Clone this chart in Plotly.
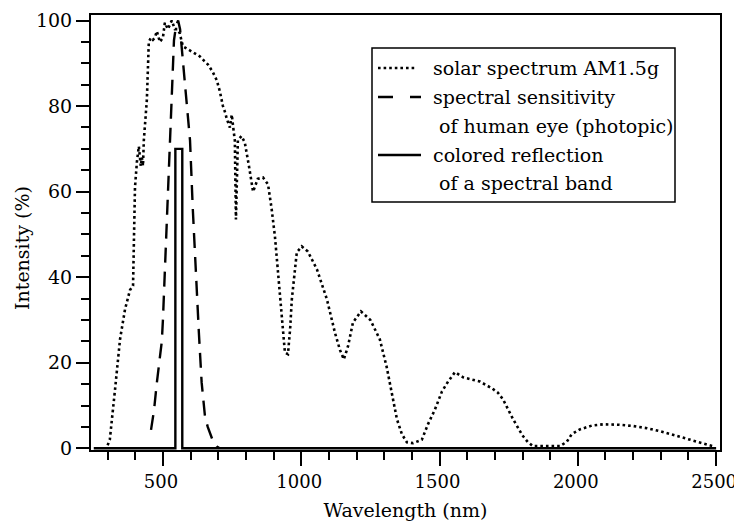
import plotly.graph_objects as go

# Solar spectrum AM1.5g
solar_wl = [300, 308, 327, 345, 363, 381, 392, 399, 406, 413, 420, 424, 428, 431, 442, 449, 457, 464, 471, 478,
            489, 500, 507, 518, 525, 532, 543, 552, 561, 572, 585, 598, 615, 634, 650, 663, 680, 695, 706, 717,
            725, 731, 742, 749, 756, 760, 764, 771, 784, 796, 811, 826, 843, 862, 880, 893, 905, 915, 923, 932,
            941, 952, 960, 966, 975, 984, 1002, 1024, 1057, 1093, 1122, 1140, 1154, 1169, 1187, 1216, 1250, 1284,
            1309, 1328, 1346, 1364, 1382, 1404, 1436, 1458, 1483, 1509, 1531, 1556, 1585, 1646, 1690, 1711, 1730,
            1766, 1800, 1820, 1838, 1880, 1935, 1960, 1978, 2007, 2050, 2091, 2150, 2200, 2250, 2297, 2350, 2394,
            2450, 2488]
solar_val = [0.7, 2, 13.8, 25.5, 32.5, 37, 38, 61, 67, 70.6, 66, 68, 66, 72, 81.5, 95, 96, 95.5, 96, 97.5,
             95, 96, 99.5, 98, 99, 100, 98, 98, 97, 94, 93.5, 93, 92.5, 91.6, 90.5, 89.7, 88, 86, 83.4, 80,
             78.5, 77, 75, 78, 74, 72, 53.5, 72, 73, 71.5, 66, 60, 63, 63.3, 61.7, 56, 49.5, 42, 34.8, 28,
             22.4, 22, 28, 34.8, 41, 45.8, 47.2, 46, 41.8, 34.8, 27, 23, 20.8, 23.8, 29.4, 32, 30, 25.5,
             19, 13, 6.8, 3.3, 1.4, 1.2, 2, 5.6, 9, 13.3, 15.6, 17.8, 16.6, 15.6, 14, 13, 11.4,
             6.8, 3, 1.4, 0.5, 0.5, 0.5, 1.5, 3.3, 4.4, 5.3, 5.6, 5.5, 5.2, 4.7, 4, 3, 2.1,
             1.2, 0.5]

# Photopic sensitivity of the human eye
eye_wl = [457, 468, 478, 488, 496, 500, 507, 514, 518, 525, 532, 540, 548, 555, 562, 572, 580, 587, 598, 608,
          619, 630, 640, 652, 662, 670, 682, 695, 705]
eye_val = [4.3, 9, 15.3, 20.5, 25, 30, 41.7, 53.4, 62, 73.7, 85.4, 95.4, 99, 100, 98, 91, 86, 81.6, 72, 56,
           40, 27, 15.4, 7.5, 5, 3.7, 1.5, 0.4, 0]

# Colored reflection of a spectral band
band_wl = [250, 545, 545, 570, 570, 2500]
band_val = [0, 0, 70, 70, 0, 0]

x_ticks = [500, 1000, 1500, 2000, 2500]
y_ticks = [0, 20, 40, 60, 80, 100]

# legend rows: (label, dash style or None)
legend_rows = [
    ("solar spectrum AM1.5g", "2.6px,3px"),
    ("spectral sensitivity", "15px,17px"),
    ("\u00a0of human eye (photopic)", None),
    ("colored reflection", "solid"),
    ("\u00a0of a spectral band", None),
]

FONT = "DejaVu Serif"
FS = 19
SOLAR_DASH = "2.6px,3px"
EYE_DASH = "15px,9px"

# page body has an 8px margin: the figure starts at (8, 8) in the window
OFF = 8
W, H = 742 - OFF, 529 - 2 * OFF
# plot area in window pixels
L, R, T, B = 91, 720, 15, 450

fig = go.Figure()
fig.add_trace(go.Scatter(x=solar_wl, y=solar_val, mode="lines", name="solar spectrum AM1.5g",
                         line=dict(color="black", width=2.6, dash=SOLAR_DASH)))
fig.add_trace(go.Scatter(x=eye_wl, y=eye_val, mode="lines", name="spectral sensitivity of human eye (photopic)",
                         line=dict(color="black", width=2.4, dash=EYE_DASH)))
fig.add_trace(go.Scatter(x=band_wl, y=band_val, mode="lines", name="colored reflection of a spectral band",
                         line=dict(color="black", width=2.4)))

axis_common = dict(showline=True, linecolor="black", linewidth=2, mirror=True, showgrid=False,
                   zeroline=False, ticks="outside", tickcolor="black", tickwidth=1.5, automargin=False,
                   ticklabeloverflow="allow")

fig.update_xaxes(range=[240, 2514], tickvals=x_ticks, ticklen=14, ticklabelshift=-2,
                 tickfont=dict(family=FONT, size=18, color="black"),
                 minor=dict(dtick=100, tick0=0, ticks="outside", ticklen=8, tickcolor="black", tickwidth=1.5),
                 title=dict(text="Wavelength (nm)", font=dict(family=FONT, size=FS, color="black"), standoff=14),
                 **axis_common)
fig.update_yaxes(range=[-0.4, 101.3], tickvals=y_ticks, ticklen=13,
                 tickfont=dict(family=FONT, size=FS, color="black"),
                 minor=dict(dtick=5, tick0=0, ticks="outside", ticklen=8, tickcolor="black", tickwidth=1.5),
                 **axis_common)

def px(xp):
    return (xp - L) / (R - L)
def py(yp):
    return (B - yp) / (B - T)

fig.add_annotation(text="Intensity (%)", textangle=-90, xref="paper", yref="paper",
                   x=px(22), y=py(248), xanchor="center", yanchor="middle", showarrow=False,
                   font=dict(family=FONT, size=FS, color="black"))

# legend box
fig.add_shape(type="rect", xref="paper", yref="paper", x0=px(372), x1=px(675), y0=py(202), y1=py(48),
              line=dict(color="black", width=1.5), fillcolor="white", layer="above")
row_y = [68, 97, 126, 155, 183]
for (label, dash), yy in zip(legend_rows, row_y):
    if dash is not None:
        fig.add_shape(type="line", xref="paper", yref="paper", x0=px(378), x1=px(421 if dash != SOLAR_DASH else 417),
                      y0=py(yy), y1=py(yy), line=dict(color="black", width=2.4, dash=dash), layer="above")
    fig.add_annotation(text=label, xref="paper", yref="paper", x=px(431), y=py(yy),
                       xanchor="left", yanchor="middle", showarrow=False,
                       font=dict(family=FONT, size=FS, color="black"))

fig.update_layout(
    width=W, height=H,
    margin=dict(l=L - OFF, r=742 - R, t=T - OFF, b=(OFF + H) - B),
    paper_bgcolor="white", plot_bgcolor="white",
    font=dict(family=FONT, size=FS, color="black"),
    showlegend=False,
)

fig.write_html("out.html")
